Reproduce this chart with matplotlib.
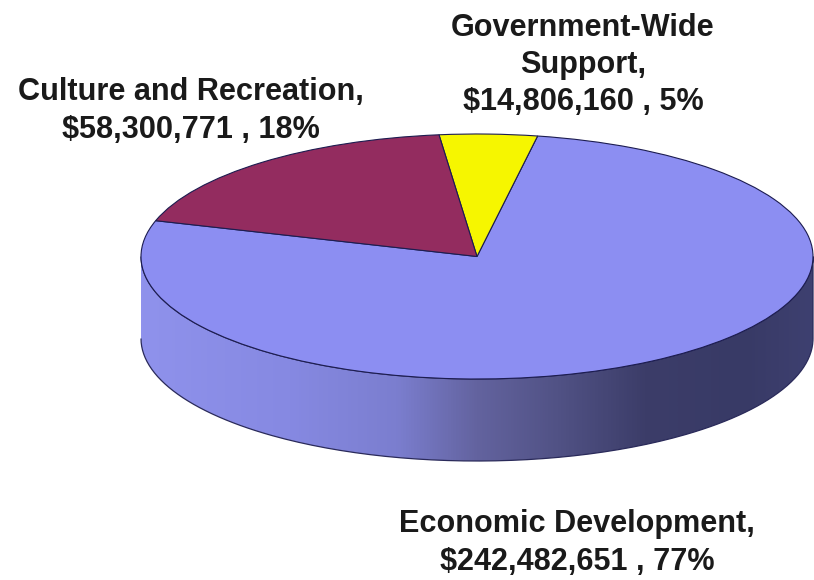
import numpy as np
import matplotlib
matplotlib.use("Agg")
import matplotlib.pyplot as plt
from matplotlib.colors import LinearSegmentedColormap
from matplotlib.patches import PathPatch
from matplotlib.path import Path

categories = ["Economic Development", "Government-Wide Support", "Culture and Recreation"]
values = [242482651, 14806160, 58300771]
percents = [77, 5, 18]
colors = ["#8c8ef2", "#f6f600", "#932c5f"]

W, H = 814, 580
CX, CY, RX, RY = 477, 256.5, 336, 122.5
DEPTH = 82 / RY

fig = plt.figure(figsize=(W / 100, H / 100), dpi=100)
ax = fig.add_axes([0, 0, 1, 1])

# side wall with horizontal gradient
xlim = (-CX / RX, (W - CX) / RX)
ylim = ((CY - H) / RY, CY / RY)
t = np.linspace(np.pi, 2 * np.pi, 200)
vx = np.r_[np.cos(t), np.cos(t[::-1])]
vy = np.r_[np.sin(t) - DEPTH, np.sin(t[::-1])]
wall = PathPatch(Path(np.c_[vx, vy]), facecolor="none", edgecolor="#2a2a5a", linewidth=0.9, zorder=2)
cmap = LinearSegmentedColormap.from_list("wall", [
    (0.00, "#8f92ec"), (0.22, "#8689e2"), (0.38, "#7b7ecf"), (0.50, "#63639f"),
    (0.62, "#515285"), (0.75, "#3c3d69"), (0.90, "#383a66"), (1.00, "#3e4070")])
ax.add_patch(wall)
im = ax.imshow(np.linspace(0, 1, 512)[None, :], cmap=cmap, aspect="auto",
               extent=(-1, 1, -1 - DEPTH, 0), zorder=1)
im.set_clip_path(wall)

wedges, _ = ax.pie(values, colors=colors, startangle=163, counterclock=True, radius=1,
                   wedgeprops=dict(edgecolor="#1c1c50", linewidth=0.8, zorder=3))
for w in wedges:
    w.set_zorder(3)
ax.set_aspect("auto")
ax.set_xlim(*xlim)
ax.set_ylim(*ylim)
ax.axis("off")

font = dict(family="Liberation Sans", fontweight="bold", fontsize=22.1, color="#1a1a1a",
            ha="center", va="center", linespacing=1.32, transform=fig.transFigure)

def label(parts, px, py):
    fig.text(px / W, 1 - py / H, "\n".join(parts), **font)

amt = [f"${v:,} , {p}%" for v, p in zip(values, percents)]
label(["Economic Development,", amt[0]], 577, 543)
label(["Government-Wide", "Support,", amt[1]], 583, 65)
label(["Culture and Recreation,", amt[2]], 191, 111)

fig.savefig("out.png", dpi=100)
